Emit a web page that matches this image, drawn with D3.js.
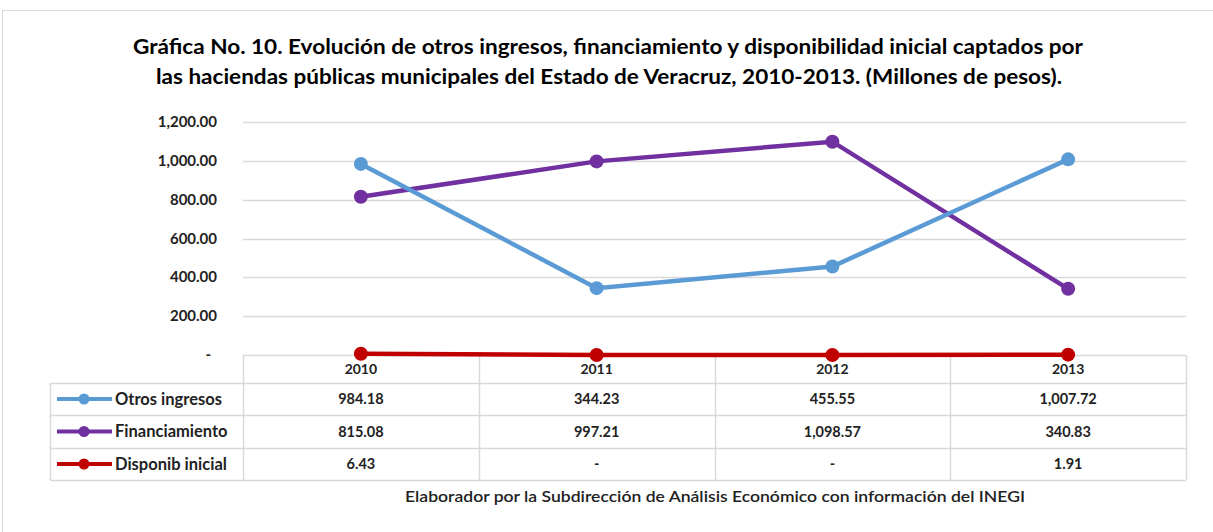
<!DOCTYPE html>
<html>
<head>
<meta charset="utf-8">
<script src="https://cdn.jsdelivr.net/npm/d3@7"></script>
<style>
  body { margin: 0; background: #fff; }
  svg { display: block; font-family: Lato, "Open Sans", sans-serif; }
</style>
</head>
<body>
<svg width="1213" height="532"></svg>
<script>
const years = ['2010', '2011', '2012', '2013'];
const otrosIngresos = [984.18, 344.23, 455.55, 1007.72];
const financiamiento = [815.08, 997.21, 1098.57, 340.83];
const disponibInicial = [6.43, 0, 0, 1.91];
const yTicks = [0, 200, 400, 600, 800, 1000, 1200];

const series = [
  { name: 'Otros ingresos', values: otrosIngresos, color: '#5B9BD5' },
  { name: 'Financiamiento', values: financiamiento, color: '#7030A0' },
  { name: 'Disponib inicial', values: disponibInicial, color: '#C00000' },
];

const svg = d3.select('svg');
const grid = '#d9d9d9';

// outer frame
svg.append('rect')
  .attr('x', 2.5).attr('y', 10.5)
  .attr('width', 1220).attr('height', 540)
  .attr('fill', 'none').attr('stroke', grid);

// title
const title = svg.append('text')
  .attr('text-anchor', 'middle')
  .attr('font-weight', 'bold')
  .attr('font-size', 21)
  .attr('fill', '#000');
title.append('tspan').attr('x', 608).attr('y', 54)
  .attr('textLength', 950).attr('lengthAdjust', 'spacingAndGlyphs')
  .text('Gráfica No. 10. Evolución de otros ingresos, financiamiento y disponibilidad inicial captados por');
title.append('tspan').attr('x', 609).attr('y', 84)
  .attr('textLength', 906).attr('lengthAdjust', 'spacingAndGlyphs')
  .text('las haciendas públicas municipales del Estado de Veracruz, 2010-2013. (Millones de pesos).');

const x = d3.scaleBand().domain(years).range([243, 1186]);
const y = d3.scaleLinear().domain([0, 1200]).range([355, 122]);

// gridlines
svg.append('g').selectAll('line')
  .data(yTicks.filter(d => d > 0))
  .join('line')
  .attr('x1', 243).attr('x2', 1186)
  .attr('y1', d => Math.round(y(d)) + 0.5).attr('y2', d => Math.round(y(d)) + 0.5)
  .attr('stroke', grid).attr('stroke-width', 1.5);

// y labels
const fmt = d3.format(',.2f');
svg.append('g').selectAll('text')
  .data(yTicks)
  .join('text')
  .attr('x', d => d === 0 ? 211 : 217)
  .attr('y', d => y(d) + 5)
  .attr('text-anchor', 'end')
  .attr('font-size', 15)
  .attr('font-weight', 'bold')
  .attr('fill', '#222')
  .text(d => d === 0 ? '-' : fmt(d));

// table
const rowTop = [355, 383, 415, 448, 480];
const tbl = svg.append('g').attr('stroke', grid).attr('stroke-width', 1.5).attr('fill', 'none');
tbl.append('line').attr('x1', 243).attr('x2', 1186).attr('y1', 355.5).attr('y2', 355.5);
[383, 415, 448, 480].forEach(v => {
  tbl.append('line').attr('x1', 50).attr('x2', 1186).attr('y1', v + 0.5).attr('y2', v + 0.5);
});
tbl.append('line').attr('x1', 50.5).attr('x2', 50.5).attr('y1', 383).attr('y2', 480);
years.forEach(yr => {
  const xv = Math.round(x(yr)) + 0.5;
  tbl.append('line').attr('x1', xv).attr('x2', xv).attr('y1', 355).attr('y2', 480);
});
tbl.append('line').attr('x1', 1186.5).attr('x2', 1186.5).attr('y1', 355).attr('y2', 480);

// header years
svg.append('g').selectAll('text')
  .data(years)
  .join('text')
  .attr('x', d => x(d) + x.bandwidth() / 2)
  .attr('y', 374)
  .attr('text-anchor', 'middle')
  .attr('font-size', 14)
  .attr('font-weight', 'bold')
  .attr('fill', '#222')
  .text(d => d);

const cellFmt = v => v === 0 ? '-' : fmt(v);
series.forEach((s, i) => {
  const cy = (rowTop[i + 1] + rowTop[i + 2]) / 2;
  const g = svg.append('g');
  g.append('line').attr('x1', 57).attr('x2', 112).attr('y1', cy).attr('y2', cy)
    .attr('stroke', s.color).attr('stroke-width', 4);
  g.append('circle').attr('cx', 84).attr('cy', cy).attr('r', 5.5).attr('fill', s.color);
  g.append('text').attr('x', 115).attr('y', cy + 5.5)
    .attr('font-size', 16.5).attr('font-weight', 'bold').attr('fill', '#222')
    .text(s.name);
  g.selectAll('text.val')
    .data(s.values)
    .join('text')
    .attr('class', 'val')
    .attr('x', (d, j) => x(years[j]) + x.bandwidth() / 2)
    .attr('y', cy + 5)
    .attr('text-anchor', 'middle')
    .attr('font-size', 14.5)
    .attr('font-weight', 'bold')
    .attr('fill', '#222')
    .text(d => cellFmt(d));
});

// lines
const line = d3.line()
  .x((d, j) => x(years[j]) + x.bandwidth() / 2)
  .y(d => y(d));

series.slice().reverse().forEach(s => {
  svg.append('path').datum(s.values)
    .attr('d', line)
    .attr('fill', 'none')
    .attr('stroke', s.color)
    .attr('stroke-width', 4.5);
  svg.append('g').selectAll('circle')
    .data(s.values)
    .join('circle')
    .attr('cx', (d, j) => x(years[j]) + x.bandwidth() / 2)
    .attr('cy', d => y(d))
    .attr('r', 7)
    .attr('fill', s.color);
});

// footer
svg.append('text')
  .attr('x', 715).attr('y', 502)
  .attr('text-anchor', 'middle')
  .attr('font-size', 16)
  .attr('font-weight', 600)
  .attr('fill', '#222')
  .attr('textLength', 620).attr('lengthAdjust', 'spacingAndGlyphs')
  .text('Elaborador por la Subdirección de Análisis Económico con información del INEGI');
</script>
</body>
</html>
